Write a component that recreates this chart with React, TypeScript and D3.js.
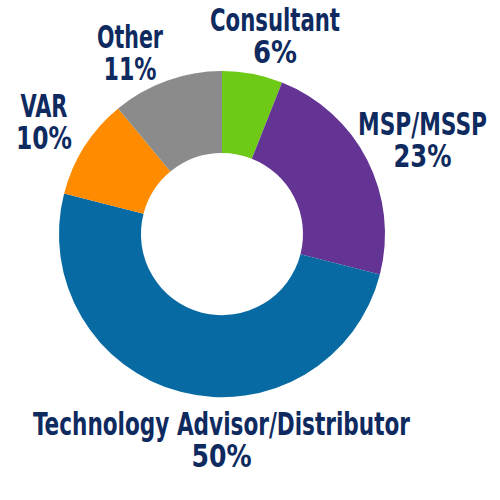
import React from "react";
import * as d3 from "d3";

const categories = ["Consultant", "MSP/MSSP", "Technology Advisor/Distributor", "VAR", "Other"];
const values = [6, 23, 50, 10, 11];
const colors = ["#6fc917", "#633493", "#086aa3", "#ff8c00", "#8a8b8a"];

// label layout (center x, first baseline, widths of lines)
const labelLayout = [
  { x: 275, y: 31, w1: 130, w2: 44 },
  { x: 422.5, y: 135, w1: 129, w2: 58 },
  { x: 221.5, y: 435, w1: 377, w2: 60 },
  { x: 44, y: 117, w1: 47, w2: 56 },
  { x: 130, y: 48, w1: 66, w2: 53 },
];

const W = 500;
const H = 500;
const cx = 222;
const cy = 234;
const outerR = 163;
const innerR = 81;
const textColor = "#0e2a5f";
const font = "'Liberation Sans Narrow', 'DejaVu Sans Condensed', 'Roboto', sans-serif";

export default function App() {
  const pie = d3.pie<number>().sort(null).value((d) => d)(values);
  const arc = d3.arc<d3.PieArcDatum<number>>().innerRadius(innerR).outerRadius(outerR);
  return (
    <svg
      width={W}
      height={H}
      style={{ position: "absolute", left: 0, top: 0, background: "#fff" }}
    >
      <g transform={`translate(${cx},${cy})`}>
        {pie.map((p, i) => (
          <path key={i} d={arc(p) || ""} fill={colors[i]} />
        ))}
      </g>
      {categories.map((c, i) => {
        const L = labelLayout[i];
        return (
          <g key={c} fontFamily={font} fontWeight="bold" fontSize={32} fill={textColor} textAnchor="middle">
            <text x={L.x} y={L.y} textLength={L.w1} lengthAdjust="spacingAndGlyphs">
              {c}
            </text>
            <text x={L.x} y={L.y + 32} textLength={L.w2} lengthAdjust="spacingAndGlyphs">
              {values[i] + "%"}
            </text>
          </g>
        );
      })}
    </svg>
  );
}
